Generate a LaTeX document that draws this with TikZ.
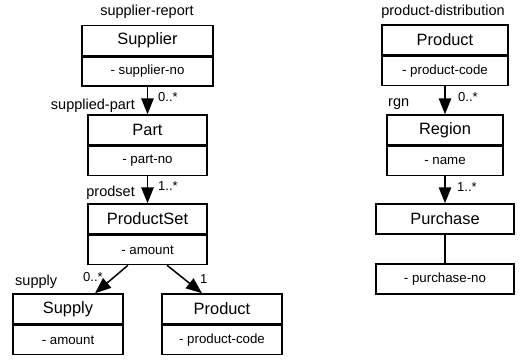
\documentclass[tikz,border=0pt]{standalone}
\usepackage{fontspec}
\setmainfont{Liberation Sans}
\usetikzlibrary{arrows.meta}

\tikzset{
  box/.style={draw, line width=1.5pt, inner sep=0pt, fill=white},
  cls/.style={box, minimum height=30pt, font=\fontsize{16.4}{18}\selectfont},
  attr/.style={box, minimum height=29pt, font=\fontsize{13.3}{15}\selectfont},
  role/.style={inner sep=0pt, font=\fontsize{14.5}{16}\selectfont},
  mult/.style={inner sep=0pt, font=\fontsize{13}{15}\selectfont},
  assoc/.style={line width=1.5pt, -{Triangle[length=16pt,width=12.5pt]}},
  link/.style={line width=1.5pt},
}

\begin{document}
\begin{tikzpicture}[x=1pt, y=-1pt]
\useasboundingbox (0,0) rectangle (525,361);

% ---- supplier-report ----
\node[role] (rep) at (147,12) {supplier-report};
\node[cls, minimum width=131pt] (sup) at (147.5,40.5) {Supplier};
\node[attr, minimum width=131pt, anchor=north] (supa) at (sup.south) {- supplier-no};

\node[cls, minimum width=119pt] (part) at (147.5,130) {Part};
\node[attr, minimum width=119pt, anchor=north] (parta) at (part.south) {- part-no};

\node[cls, minimum width=119pt] (pset) at (147.5,219) {ProductSet};
\node[attr, minimum width=119pt, anchor=north] (pseta) at (pset.south) {- amount};

\node[cls, minimum width=110pt] (supply) at (68,309) {Supply};
\node[attr, minimum width=110pt, anchor=north] (supplya) at (supply.south) {- amount};

\node[cls, minimum width=120pt] (prodl) at (222,309) {Product};
\node[attr, minimum width=120pt, anchor=north] (prodla) at (prodl.south) {- product-code};

\draw[assoc] (supa.south) -- (part.north);
\draw[assoc] (parta.south) -- (pset.north);
\draw[assoc] ([xshift=-19.5pt]pseta.south) -- ([xshift=27pt]supply.north);
\draw[assoc] ([xshift=19.5pt]pseta.south) -- ([xshift=-20pt]prodl.north);

\node[role, anchor=east] (l1) at (135,106) {supplied-part};
\node[mult, anchor=west] (m1) at (158,97) {0..*};
\node[role, anchor=east] (l2) at (135,193) {prodset};
\node[mult, anchor=west] (m2) at (158,186) {1..*};
\node[role, anchor=west] (l3) at (15,282) {supply};
\node[mult, anchor=west] (m3) at (83,277) {0..*};
\node[mult, anchor=west] (m4) at (200,279) {1};

% ---- product-distribution ----
\node[role] (dist) at (443,12) {product-distribution};
\node[cls, minimum width=126pt] (prodr) at (445,40) {Product};
\node[attr, minimum width=126pt, anchor=north] (prodra) at (prodr.south) {- product-code};

\node[cls, minimum width=116pt] (reg) at (445,130) {Region};
\node[attr, minimum width=116pt, anchor=north] (rega) at (reg.south) {- name};

\node[cls, minimum width=138pt] (pur) at (445,219) {Purchase};
\node[attr, minimum width=138pt, minimum height=30pt] (pno) at (445,279) {- purchase-no};

\draw[assoc] (prodra.south) -- (reg.north);
\draw[assoc] (rega.south) -- (pur.north);
\draw[link] (pur.south) -- (pno.north);

\node[role, anchor=west] (l4) at (388,104) {rgn};
\node[mult, anchor=west] (m5) at (458,97) {0..*};
\node[mult, anchor=west] (m6) at (457,187) {1..*};
\end{tikzpicture}
\end{document}
